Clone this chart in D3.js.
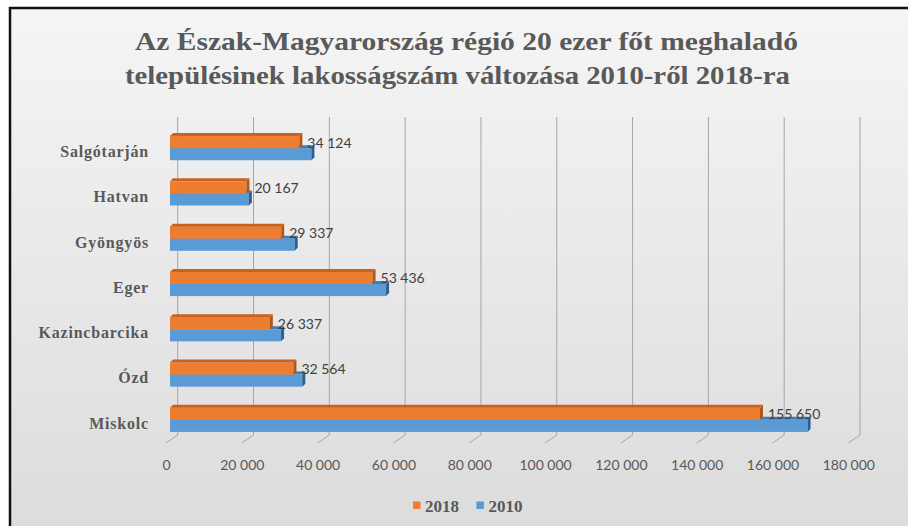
<!DOCTYPE html>
<html>
<head>
<meta charset="utf-8">
<script src="https://cdn.jsdelivr.net/npm/d3@7"></script>
<style>
  html, body { margin: 0; padding: 0; background: #ffffff; }
  svg { display: block; }
  .serif { font-family: "Liberation Serif", "DejaVu Serif", serif; font-weight: bold; }
  .sans { font-family: "Lato", "Liberation Sans", sans-serif; }
</style>
</head>
<body>
<div id="chart"></div>
<script>
// Chart data
const categories = ["Salgótarján", "Hatvan", "Gyöngyös", "Eger", "Kazincbarcika", "Ózd", "Miskolc"];
const values2018 = [34124, 20167, 29337, 53436, 26337, 32564, 155650];
const values2010 = [37300, 20800, 32900, 57000, 29300, 34900, 168200];
const seriesNames = ["2018", "2010"];
const xTicks = [0, 20000, 40000, 60000, 80000, 100000, 120000, 140000, 160000, 180000];
const titleLines = [
    "Az Észak-Magyarország régió 20 ezer főt meghaladó",
    "településinek lakosságszám változása 2010-ről 2018-ra"
];

const width = 908;
const height = 526;

// 3D look: back wall offset and bar depth
const wallDx = 11.7;
const barDx = 4, barDepth = 3;
const wallTop = 117, wallBottom = 435, floorFront = 443;

const colors = {
    "2018": { front: "#ED7D31", top: "#C8621E", side: "#B3561A" },
    "2010": { front: "#5B9BD5", top: "#3F7DBA", side: "#2E5F91" }
};

const huLocale = d3.formatLocale({ decimal: ",", thousands: " ", grouping: [3], currency: ["", " Ft"] });
const fmt = huLocale.format(",");

const svg = d3.select("#chart")
    .append("svg")
    .attr("width", width)
    .attr("height", height);

const defs = svg.append("defs");
const grad = defs.append("linearGradient")
    .attr("id", "bg")
    .attr("x1", 0).attr("y1", 0).attr("x2", 0).attr("y2", 1);
grad.append("stop").attr("offset", "0%").attr("stop-color", "#f5f5f5");
grad.append("stop").attr("offset", "45%").attr("stop-color", "#e9e9e9");
grad.append("stop").attr("offset", "100%").attr("stop-color", "#dadada");

// frame (continues past the right and bottom edges)
svg.append("rect")
    .attr("x", 10)
    .attr("y", 8)
    .attr("width", 940)
    .attr("height", 560)
    .attr("fill", "url(#bg)")
    .attr("stroke", "#111")
    .attr("stroke-width", 2.5);

// Title - the original is rendered a bit wide, so stretch to its width
const titleX = [135, 125];
const titleW = [663, 665];
svg.append("g")
    .selectAll("text")
    .data(titleLines)
    .enter()
    .append("text")
    .attr("class", "serif")
    .attr("x", (d, i) => titleX[i])
    .attr("y", (d, i) => 50 + i * 34)
    .attr("textLength", (d, i) => titleW[i])
    .attr("lengthAdjust", "spacingAndGlyphs")
    .attr("font-size", 25)
    .attr("fill", "#595959")
    .text(d => d);

// Scales
const xScale = d3.scaleLinear()
    .domain([0, 180000])
    .range([166, 848.3]);

const yScale = d3.scaleBand()
    .domain(categories)
    .range([124, 441])
    .paddingInner(0.4)
    .paddingOuter(0.2);

const ySeries = d3.scaleBand()
    .domain(seriesNames)
    .range([barDepth, yScale.bandwidth()]);

// Grid lines on the back wall, with the floor diagonal
const grid = svg.append("g").attr("class", "grid");
grid.selectAll("path")
    .data(xTicks)
    .enter()
    .append("path")
    .attr("d", d => {
        const xf = xScale(d);
        const xb = xf + wallDx;
        return `M${xb},${wallTop}L${xb},${wallBottom}L${xf},${floorFront}`;
    })
    .attr("fill", "none")
    .attr("stroke", "#a6a6a6")
    .attr("stroke-width", 1);

// X axis labels
const xAxis = d3.axisBottom(xScale)
    .tickValues(xTicks)
    .tickFormat(fmt)
    .tickSize(0)
    .tickPadding(5);

const xg = svg.append("g")
    .attr("transform", "translate(0,455)")
    .call(xAxis);
xg.select(".domain").remove();
xg.attr("font-family", null).attr("font-size", null);
xg.selectAll("text")
    .attr("class", "sans")
    .attr("font-size", 14)
    .attr("fill", "#595959");

// Category labels
svg.append("g")
    .selectAll("text")
    .data(categories)
    .enter()
    .append("text")
    .attr("class", "serif")
    .attr("x", 149)
    .attr("y", d => yScale(d) + 18.5)
    .attr("dominant-baseline", "central")
    .attr("text-anchor", "end")
    .attr("font-size", 16)
    .attr("letter-spacing", 0.8)
    .attr("fill", "#595959")
    .text(d => d);

// Bars as little boxes: front, top and side faces
const barRows = [];
categories.forEach((c, i) => {
    barRows.push({ cat: c, series: "2010", value: values2010[i] });
    barRows.push({ cat: c, series: "2018", value: values2018[i] });
});

const bars = svg.append("g")
    .selectAll("g")
    .data(barRows)
    .enter()
    .append("g");

const boxGeom = d => {
    const x0 = xScale(0) + barDx;
    const x1 = xScale(d.value) + barDx;
    const y0 = yScale(d.cat) + ySeries(d.series);
    const y1 = y0 + ySeries.bandwidth();
    return { x0, x1, y0, y1 };
};

bars.append("rect")
    .attr("x", d => boxGeom(d).x0)
    .attr("y", d => boxGeom(d).y0)
    .attr("width", d => boxGeom(d).x1 - boxGeom(d).x0)
    .attr("height", d => boxGeom(d).y1 - boxGeom(d).y0)
    .attr("fill", d => colors[d.series].front);

bars.append("path")
    .attr("d", d => {
        const g = boxGeom(d);
        return `M${g.x0},${g.y0}L${g.x0 + barDepth},${g.y0 - barDepth}L${g.x1 + barDepth},${g.y0 - barDepth}L${g.x1},${g.y0}Z`;
    })
    .attr("fill", d => colors[d.series].top);

bars.append("path")
    .attr("d", d => {
        const g = boxGeom(d);
        return `M${g.x1},${g.y0}L${g.x1 + barDepth},${g.y0 - barDepth}L${g.x1 + barDepth},${g.y1 - barDepth}L${g.x1},${g.y1}Z`;
    })
    .attr("fill", d => colors[d.series].side);

// Data labels (2018 only)
svg.append("g")
    .selectAll("text")
    .data(categories)
    .enter()
    .append("text")
    .attr("class", "sans")
    .attr("x", (d, i) => xScale(values2018[i]) + barDx + barDepth + 5)
    .attr("y", d => yScale(d) + 9)
    .attr("dominant-baseline", "central")
    .attr("font-size", 14)
    .attr("fill", "#404040")
    .text((d, i) => fmt(values2018[i]));

// Legend
const legend = svg.append("g")
    .attr("transform", "translate(413,505)");
const items = legend.selectAll("g")
    .data(seriesNames)
    .enter()
    .append("g")
    .attr("transform", (d, i) => `translate(${i * 63.4},0)`);
items.append("rect")
    .attr("x", 0)
    .attr("y", -3.5)
    .attr("width", 7.5)
    .attr("height", 7.5)
    .attr("fill", d => colors[d].front);
items.append("text")
    .attr("class", "serif")
    .attr("x", 12)
    .attr("y", 1)
    .attr("dominant-baseline", "central")
    .attr("font-size", 17)
    .attr("fill", "#595959")
    .text(d => d);
</script>
</body>
</html>
